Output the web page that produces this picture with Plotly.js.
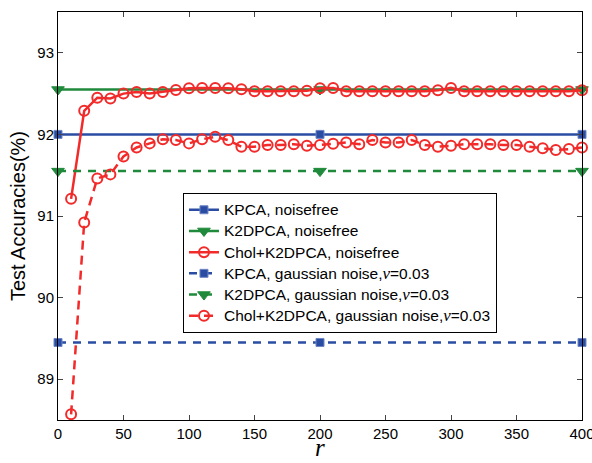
<!DOCTYPE html>
<html><head><meta charset="utf-8">
<script src="https://cdn.plot.ly/plotly-3.0.1.min.js"></script>
<style>html,body{margin:0;padding:0;background:#fff}</style>
</head><body>
<div id="chart" style="width:592px;height:463px"></div>
<script>
const rFlat = [0, 200, 400];
const kpcaClean = [92.0, 92.0, 92.0];
const k2dpcaClean = [92.55, 92.55, 92.55];
const kpcaNoise = [89.45, 89.45, 89.45];
const k2dpcaNoise = [91.55, 91.55, 91.55];
const rChol = [10,20,30,40,50,60,70,80,90,100,110,120,130,140,150,160,170,180,190,200,
               210,220,230,240,250,260,270,280,290,300,310,320,330,340,350,360,370,380,390,400];
const cholClean = [91.21,92.29,92.45,92.44,92.50,92.52,92.50,92.52,92.545,92.565,92.57,92.57,92.565,92.553,92.53,92.53,92.53,92.53,92.535,92.565,
                   92.57,92.53,92.53,92.53,92.53,92.53,92.53,92.53,92.54,92.57,92.53,92.53,92.53,92.53,92.53,92.53,92.53,92.53,92.53,92.54];
const cholNoise = [88.57,90.92,91.46,91.51,91.73,91.84,91.89,91.94,91.93,91.89,91.94,91.97,91.93,91.85,91.85,91.87,91.87,91.88,91.86,91.87,
                   91.885,91.90,91.88,91.93,91.90,91.90,91.93,91.87,91.85,91.86,91.88,91.88,91.88,91.87,91.87,91.85,91.83,91.81,91.82,91.84];
const xTitle = 'r';
const yTitle = 'Test Accuracies(%)';
const nu = '<span style="font-family:\'Liberation Serif\';font-style:italic;font-size:17px">ν</span>';
const big = s => '<span style="font-size:15.5px">' + s + '</span>';
const names = [big('KPCA, noisefree'), big('K2DPCA, noisefree'), big('Chol+K2DPCA, noisefree'),
  big('KPCA, gaussian noise,') + nu + big('=0.03'),
  big('K2DPCA, gaussian noise,') + nu + big('=0.03'),
  big('Chol+K2DPCA, gaussian noise,') + nu + big('=0.03')];

const blue = '#2a4da3', green = '#1f8a3b', red = '#f22a2a';
const sq = {symbol:'square', size:8, color:blue, line:{color:'#6f86c6', width:1}};
const tri = {symbol:'triangle-down', size:11, color:green, line:{color:green, width:1}};
const circ = {symbol:'circle-open', size:10, color:red, line:{color:red, width:2}};

const traces = [
  {x:rFlat, y:kpcaClean, name:names[0], mode:'lines+markers', line:{color:blue, width:2.5}, marker:sq},
  {x:rFlat, y:k2dpcaClean, name:names[1], mode:'lines+markers', line:{color:green, width:2.5}, marker:tri},
  {x:rChol, y:cholClean, name:names[2], mode:'lines+markers', line:{color:red, width:2.5}, marker:circ},
  {x:rFlat, y:kpcaNoise, name:names[3], mode:'lines+markers', line:{color:blue, width:2.5, dash:'8px,7px'}, marker:sq},
  {x:rFlat, y:k2dpcaNoise, name:names[4], mode:'lines+markers', line:{color:green, width:2.5, dash:'8px,7px'}, marker:tri},
  {x:rChol, y:cholNoise, name:names[5], mode:'lines+markers', line:{color:red, width:2.5, dash:'9px,6px'}, marker:circ}
].map(t => Object.assign(t, {cliponaxis:false}));

const layout = {
  width:592, height:463,
  margin:{l:58, r:10, t:12, b:43},
  paper_bgcolor:'#fff', plot_bgcolor:'#fff',
  font:{family:'Liberation Sans, Arial, sans-serif', size:15, color:'#000'},
  showlegend:true,
  legend:{x:0.2385, y:0.556, xanchor:'left', yanchor:'top', bgcolor:'#fff',
          bordercolor:'#000', borderwidth:1, font:{size:14}, tracegroupgap:0},
  xaxis:{range:[0,400], tickvals:[0,50,100,150,200,250,300,350,400], ticks:'inside', ticklen:5,
         ticklabeloverflow:'allow',
         showline:true, mirror:'ticks', linecolor:'#000', linewidth:1, showgrid:false, zeroline:false},
  yaxis:{range:[88.5,93.5], tickvals:[89,90,91,92,93], ticks:'inside', ticklen:5,
         showline:true, mirror:'ticks', linecolor:'#000', linewidth:1, showgrid:false, zeroline:false,
         title:{text:yTitle, font:{size:20}, standoff:6}},
  annotations:[{text:'<i>' + xTitle + '</i>', xref:'paper', yref:'paper', x:0.5, y:0, xanchor:'center', yanchor:'bottom',
                yshift:-43, showarrow:false,
                font:{family:'Liberation Serif', size:25, color:'#000'}}]
};
Plotly.newPlot('chart', traces, layout, {displayModeBar:false, staticPlot:true});
</script>
</body></html>
